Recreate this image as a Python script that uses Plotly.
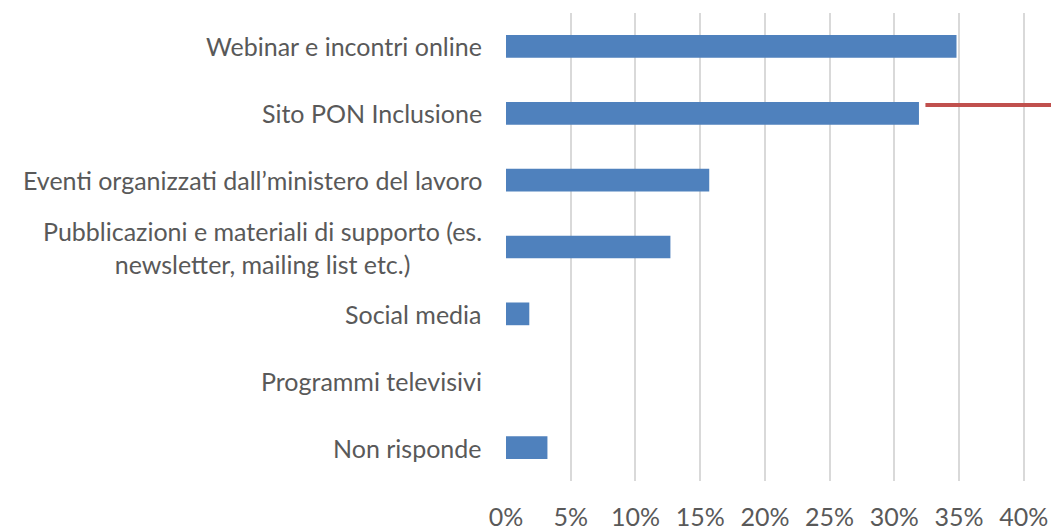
import plotly.graph_objects as go

categories = [
    "Webinar e incontri online",
    "Sito PON Inclusione",
    "Eventi organizzati dall’ministero del lavoro",
    "Pubblicazioni e materiali di supporto (es.<br>newsletter, mailing list etc.)",
    "Social media",
    "Programmi televisivi",
    "Non risponde",
]
shares = [0.348, 0.319, 0.157, 0.127, 0.018, 0.0, 0.032]
x_ticks = [0, 0.05, 0.10, 0.15, 0.20, 0.25, 0.30, 0.35, 0.40]
x_tick_labels = ["0%", "5%", "10%", "15%", "20%", "25%", "30%", "35%", "40%"]

# stray red segment next to the "Sito PON Inclusione" bar
red_x = [0.324, 0.425]
red_row = 1

BAR_WIDTH = 0.34
TEXT = "#595959"
FONT = "Lato, 'Liberation Sans', Arial, sans-serif"

rows = list(range(len(categories)))

fig = go.Figure()
fig.add_trace(
    go.Bar(
        x=shares,
        y=rows,
        orientation="h",
        width=BAR_WIDTH,
        marker=dict(color="#4F81BD", line=dict(width=0)),
        hoverinfo="x",
    )
)
red_y = red_row - 0.125
fig.add_trace(
    go.Scatter(
        x=red_x,
        y=[red_y, red_y],
        mode="lines",
        line=dict(color="#C0504D", width=4),
        hoverinfo="skip",
    )
)

for i, label in enumerate(categories):
    fig.add_annotation(
        x=0,
        xref="x",
        xanchor="right",
        xshift=-22,
        y=i,
        yref="y",
        text=label,
        showarrow=False,
        align="center",
        font=dict(size=25, color=TEXT, family=FONT),
    )

fig.update_xaxes(
    range=[0, 0.421],
    tickvals=x_ticks,
    ticktext=x_tick_labels,
    showgrid=True,
    gridcolor="#D9D9D9",
    gridwidth=2,
    zeroline=False,
    showline=False,
    ticks="",
    ticklabelstandoff=19,
    tickfont=dict(size=25, color=TEXT, family=FONT),
)
fig.update_yaxes(
    range=[len(categories) - 0.5, -0.5],
    showgrid=False,
    zeroline=False,
    showticklabels=False,
    ticks="",
)
fig.update_layout(
    width=1051,
    height=531,
    margin=dict(l=506, r=0, t=13, b=46),
    plot_bgcolor="white",
    paper_bgcolor="white",
    showlegend=False,
    font=dict(family=FONT, color=TEXT),
)

# drop the default page margin so the figure fills the window exactly
fig.write_html(
    "out.html",
    config={"displayModeBar": False},
    post_script="document.body.style.margin='0';document.body.style.overflow='hidden';",
)
